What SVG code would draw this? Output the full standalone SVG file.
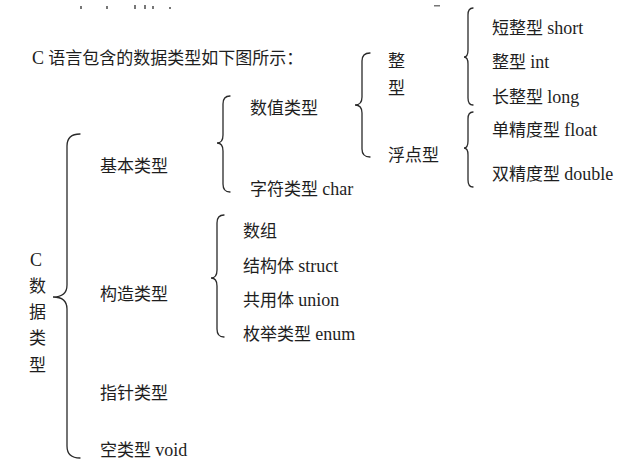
<svg xmlns="http://www.w3.org/2000/svg" width="640" height="467" viewBox="0 0 640 467">
<style>
text{font-family:"Liberation Serif","Noto Sans CJK SC",serif;font-size:17px;fill:#1e1e1e}
.en{font-size:18px}
.brace{fill:none;stroke:#2a2a2a;stroke-width:1.3;stroke-linecap:round}
.mark{fill:#777}
</style>
<rect width="640" height="467" fill="#fff"/>
<g id="artifacts">
<rect class="mark" x="80" y="6" width="2" height="3"/>
<rect class="mark" x="106" y="6" width="2" height="3"/>
<rect class="mark" x="134" y="5" width="2" height="4"/>
<rect class="mark" x="144" y="5" width="2" height="4"/>
<rect class="mark" x="152" y="6" width="2" height="3"/>
<rect class="mark" x="169" y="7" width="2" height="2"/>
<rect class="mark" x="434" y="5" width="6" height="1.5"/>
</g>
<g id="title"><text x="32" y="64"><tspan class="en">C</tspan> 语言包含的数据类型如下图所示：</text></g>
<g id="connectors">
<path class="brace" d="M80,134 Q67,134 67,146 L67,285 Q67,297 53,297 Q67,297 67,309 L67,446 Q67,458 80,458"/>
<path class="brace" d="M230,96 Q223,96 223,104 L223,135 Q223,143 217,143 Q223,143 223,151 L223,184 Q223,192 230,192"/>
<path class="brace" d="M370,53 Q362,53 362,61 L362,97 Q362,105 355,105 Q362,105 362,113 L362,149 Q362,157 370,157"/>
<path class="brace" d="M473,8 Q468,8 468,15 L468,50 Q468,57 464,57 Q468,57 468,64 L468,98 Q468,105 473,105"/>
<path class="brace" d="M473,112 Q468,112 468,119 L468,141 Q468,148 464,148 Q468,148 468,155 L468,180 Q468,187 473,187"/>
<path class="brace" d="M224,215 Q217,215 217,223 L217,270 Q217,278 211,278 Q217,278 217,286 L217,329 Q217,337 224,337"/>
</g>
<g id="root">
<text x="30" y="266" class="en">C</text>
<text x="29" y="292">数</text>
<text x="29" y="318">据</text>
<text x="29" y="344">类</text>
<text x="29" y="371">型</text>
</g>
<g id="basic"><text x="100" y="172">基本类型</text></g>
<g id="struct-types"><text x="100" y="300">构造类型</text></g>
<g id="pointer"><text x="100" y="399">指针类型</text></g>
<g id="void"><text x="100" y="456">空类型 <tspan class="en">void</tspan></text></g>
<g id="numeric"><text x="250" y="114">数值类型</text></g>
<g id="char"><text x="250" y="195">字符类型 <tspan class="en">char</tspan></text></g>
<g id="integer"><text x="388" y="67">整</text><text x="388" y="94">型</text></g>
<g id="float-types"><text x="388" y="161">浮点型</text></g>
<g id="short"><text x="492" y="34">短整型 <tspan class="en">short</tspan></text></g>
<g id="int"><text x="492" y="68">整型 <tspan class="en">int</tspan></text></g>
<g id="long"><text x="492" y="103">长整型 <tspan class="en">long</tspan></text></g>
<g id="float"><text x="492" y="136">单精度型 <tspan class="en">float</tspan></text></g>
<g id="double"><text x="492" y="180">双精度型 <tspan class="en">double</tspan></text></g>
<g id="array"><text x="243" y="237">数组</text></g>
<g id="structure"><text x="243" y="272">结构体 <tspan class="en">struct</tspan></text></g>
<g id="union"><text x="243" y="306">共用体 <tspan class="en">union</tspan></text></g>
<g id="enum"><text x="243" y="340">枚举类型 <tspan class="en">enum</tspan></text></g>
</svg>
